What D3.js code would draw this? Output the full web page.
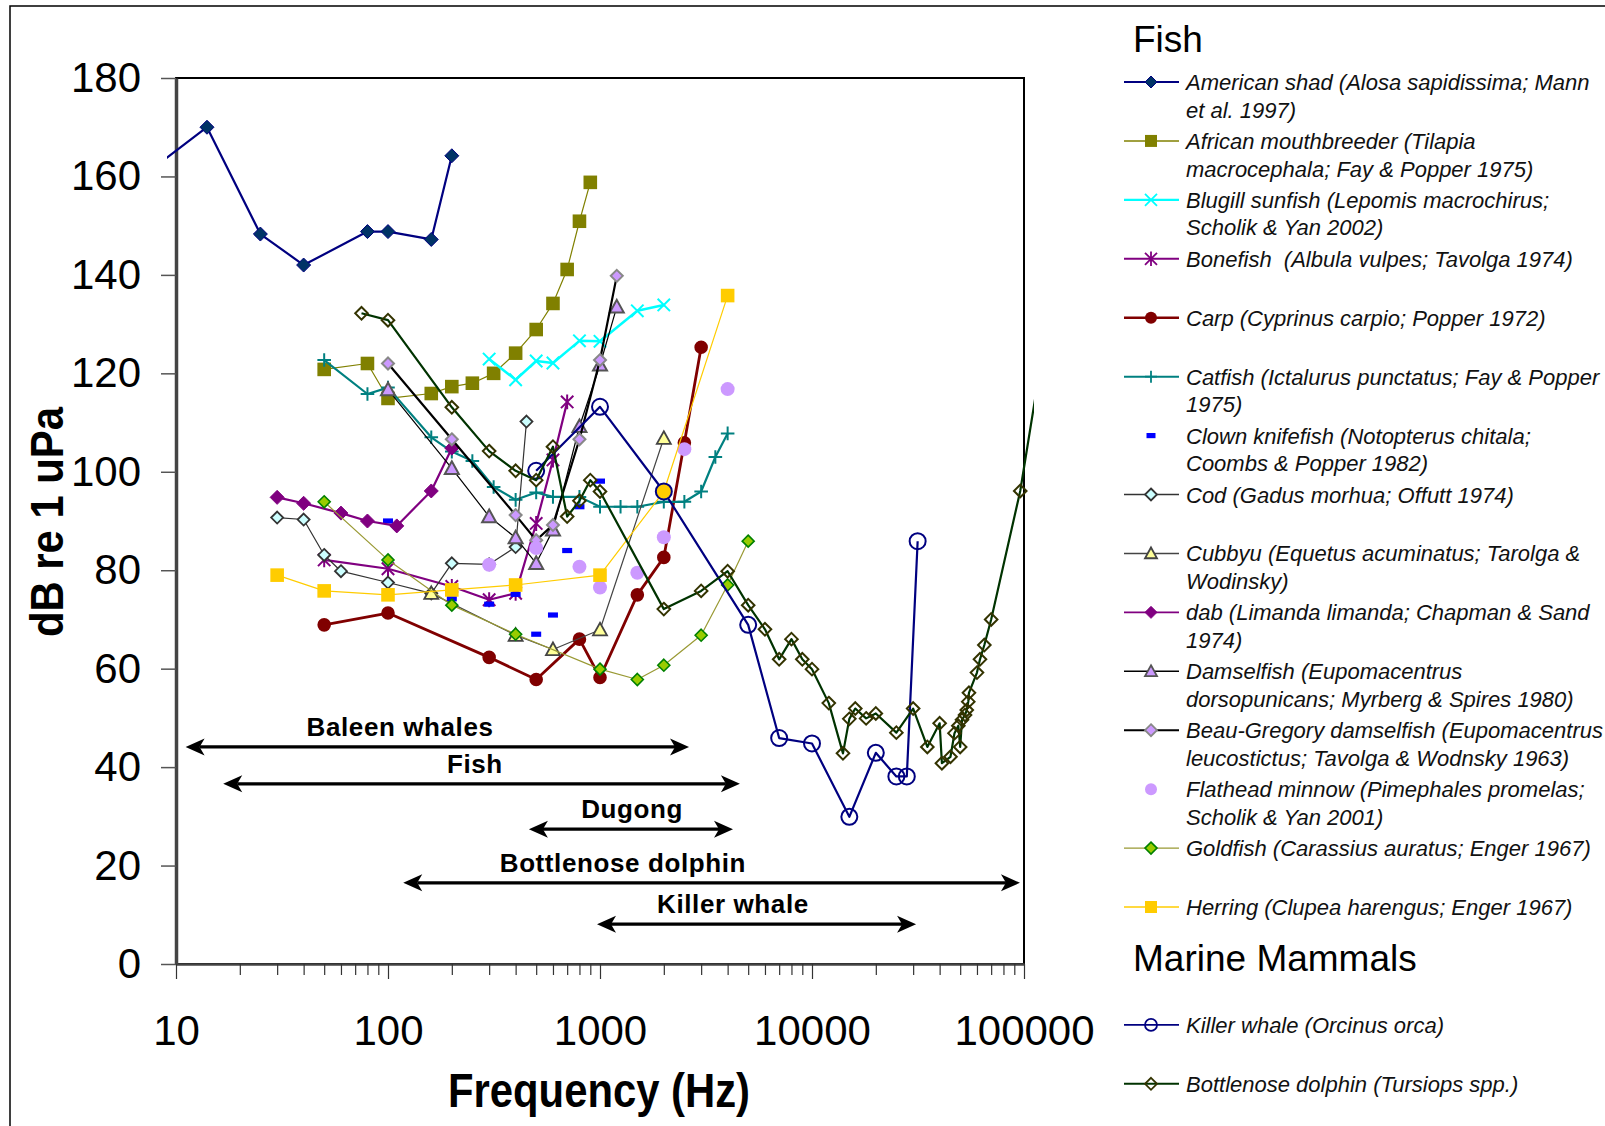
<!DOCTYPE html>
<html>
<head>
<meta charset="utf-8">
<script src="https://cdn.jsdelivr.net/npm/d3@7"></script>
<style>
  body { margin: 0; background: #fff; }
  svg { display: block; font-family: "Liberation Sans", Arial, sans-serif; }
</style>
</head>
<body>
<svg id="chart" width="1605" height="1126"></svg>
<script>
// hearing thresholds, [frequency Hz, dB re 1 uPa]
var americanShad = [[5,155.4],[14,170],[25,148.3],[40,142],[80,148.8],[100,148.8],[160,147.2],[200,164.2]];
var africanMouthbreeder = [[50,120.8],[80,122],[100,114.9],[160,115.9],[200,117.3],[250,118],[315,120],[400,124.1],[500,128.9],[600,134.2],[700,141.1],[800,150.9],[900,158.8]];
var bluegillSunfish = [[300,122.9],[400,118.7],[500,122.5],[600,122.1],[800,126.6],[1000,126.5],[1500,132.7],[2000,133.9]];
var bonefish = [[50,82.1],[100,80.3],[200,76.7],[300,74],[400,75.3],[500,89.5],[600,102.4],[700,114.2]];
var carp = [[50,68.9],[100,71.3],[300,62.3],[500,57.8],[800,66],[1000,58.2],[1500,75],[2000,82.6],[2500,105.9],[3000,125.3]];
var catfish = [[50,122.7],[80,115.8],[100,117.1],[160,107],[200,104.1],[250,102.2],[315,96.9],[400,94.3],[500,95.8],[600,94.9],[800,94.9],[1000,92.9],[1250,92.9],[1500,92.9],[2000,93.9],[2500,93.9],[3000,96],[3500,103],[4000,107.8]];
var clownKnifefish = [[100,90],[200,74.2],[300,73.1],[400,75.1],[500,67],[600,70.9],[700,84],[800,92.9],[1000,98.1]];
var cod = [[30,90.7],[40,90.3],[50,83.1],[60,79.8],[100,77.5],[160,75.3],[200,81.4],[300,81.2],[400,84.7],[450,110.2]];
var cubbyu = [[160,75.3],[400,66.8],[600,63.9],[1000,67.9],[2000,106.8]];
var dab = [[30,94.8],[40,93.6],[60,91.6],[80,90],[110,89],[160,96.1],[200,104.8]];
var damselfish = [[100,116.7],[200,100.7],[300,90.9],[400,86.6],[500,81.4],[600,88.2],[800,109.2],[1000,121.7],[1200,133.5]];
var beauGregory = [[100,122],[200,106.6],[400,91.2],[500,86.1],[600,89.2],[800,106.6],[1000,122.7],[1200,139.8]];
var flatheadMinnow = [[300,81.1],[500,84.5],[800,80.7],[1000,76.5],[1500,79.5],[2000,86.7],[2500,104.6],[4000,116.8]];
var goldfish = [[50,93.9],[100,82.1],[200,72.9],[400,67],[1000,59.9],[1500,57.8],[2000,60.7],[3000,66.8],[4000,77],[5000,85.9]];
var herring = [[30,79],[50,75.8],[100,75],[200,76],[400,77],[1000,79],[2000,96],[4000,135.8]];
var killerWhale = [[500,100.2],[1000,113.2],[2000,96],[5000,68.9],[7000,45.9],[10000,44.8],[15000,29.9],[20000,42.9],[25000,38.1],[28000,38.1],[31500,85.9]];
var bottlenoseDolphin = [[75,132.2],[100,130.8],[200,113.1],[300,104.2],[400,100.2],[500,98.3],[600,105.1],[700,90.9],[800,94.1],[900,98.3],[1000,96],[2000,72.1],[3000,75.8],[4000,79.8],[5000,72.9],[6000,68],[7000,61.9],[8000,66],[9000,61.9],[10000,59.9],[12000,53],[14000,42.8],[15000,49.8],[16000,51.9],[18000,49.9],[20000,50.9],[25000,47],[30000,51.9],[35000,44.1],[40000,48.9],[41000,40.8],[45000,42.1],[47000,46.9],[49000,48.4],[50000,44.1],[51000,49.6],[52700,50.6],[53700,51.6],[54600,53.3],[55000,55.1],[60000,59.2],[62000,61.9],[65000,64.8],[70000,70],[96000,96.1],[120000,122]];

var legendLabels = [
  ['American shad (Alosa sapidissima; Mann', 'et al. 1997)'],
  ['African mouthbreeder (Tilapia', 'macrocephala; Fay & Popper 1975)'],
  ['Blugill sunfish (Lepomis macrochirus;', 'Scholik & Yan 2002)'],
  ['Bonefish  (Albula vulpes; Tavolga 1974)'],
  ['Carp (Cyprinus carpio; Popper 1972)'],
  ['Catfish (Ictalurus punctatus; Fay & Popper', '1975)'],
  ['Clown knifefish (Notopterus chitala;', 'Coombs & Popper 1982)'],
  ['Cod (Gadus morhua; Offutt 1974)'],
  ['Cubbyu (Equetus acuminatus; Tarolga &', 'Wodinsky)'],
  ['dab (Limanda limanda; Chapman & Sand', '1974)'],
  ['Damselfish (Eupomacentrus', 'dorsopunicans; Myrberg & Spires 1980)'],
  ['Beau-Gregory damselfish (Eupomacentrus', 'leucostictus; Tavolga & Wodnsky 1963)'],
  ['Flathead minnow (Pimephales promelas;', 'Scholik & Yan 2001)'],
  ['Goldfish (Carassius auratus; Enger 1967)'],
  ['Herring (Clupea harengus; Enger 1967)'],
  ['Killer whale (Orcinus orca)'],
  ['Bottlenose dolphin (Tursiops spp.)']
];

// hearing ranges drawn as arrows
var rangeLabels = ['Baleen whales', 'Fish', 'Dugong', 'Bottlenose dolphin', 'Killer whale'];
var rangeFrom = [11.1, 16.7, 462, 118, 968];
var rangeTo = [2630, 4570, 4240, 95700, 30970];
var rangeLevel = [44.1, 36.6, 27.4, 16.5, 8.1];
var rangeLabelAt = [114, 257, 1416, 1282, 4236];

var yTicks = [0, 20, 40, 60, 80, 100, 120, 140, 160, 180];
var xMajor = [10, 100, 1000, 10000, 100000];

var series = [
  {data: americanShad, line: '#000080', lw: 2.2, mark: 'diamond', s: 7, fill: '#003366', stroke: '#000080', sw: 1},
  {data: africanMouthbreeder, line: '#808000', lw: 1.2, mark: 'square', s: 6.8, fill: '#808000', stroke: 'none', sw: 0},
  {data: bluegillSunfish, line: '#00FFFF', lw: 2.5, mark: 'x', s: 6.2, fill: 'none', stroke: '#00FFFF', sw: 2},
  {data: bonefish, line: '#800080', lw: 2.2, mark: 'star', s: 6.2, fill: 'none', stroke: '#800080', sw: 2},
  {data: carp, line: '#800000', lw: 2.8, mark: 'circle', s: 6.8, fill: '#800000', stroke: 'none', sw: 0},
  {data: catfish, line: '#008080', lw: 2.2, mark: 'plus', s: 6.8, fill: 'none', stroke: '#008080', sw: 2},
  {data: clownKnifefish, line: null, lw: 0, mark: 'dash', s: 5, fill: '#0000FF', stroke: 'none', sw: 0},
  {data: cod, line: '#333333', lw: 1.2, mark: 'diamond', s: 6, fill: '#CCFFFF', stroke: '#333333', sw: 1.8},
  {data: cubbyu, line: '#444444', lw: 1.2, mark: 'triangle', s: 7, fill: '#FFFF99', stroke: '#444444', sw: 1.8},
  {data: dab, line: '#800080', lw: 2.2, mark: 'diamond', s: 7, fill: '#800080', stroke: '#800080', sw: 1},
  {data: damselfish, line: '#000000', lw: 1.2, mark: 'triangle', s: 7, fill: '#CC99FF', stroke: '#555555', sw: 2},
  {data: beauGregory, line: '#000000', lw: 2.2, mark: 'diamond', s: 6, fill: '#CC99FF', stroke: '#888888', sw: 2},
  {data: flatheadMinnow, line: null, lw: 0, mark: 'circle', s: 7, fill: '#CC99FF', stroke: 'none', sw: 0},
  {data: goldfish, line: '#999933', lw: 1.2, mark: 'diamond', s: 6, fill: '#99CC00', stroke: '#008000', sw: 1.6},
  {data: herring, line: '#FFCC00', lw: 1.2, mark: 'square', s: 6.8, fill: '#FFCC00', stroke: 'none', sw: 0},
  {data: killerWhale, line: '#000080', lw: 2.2, mark: 'circle', s: 8, fill: 'none', stroke: '#000080', sw: 2},
  {data: bottlenoseDolphin, line: '#003300', lw: 2.2, mark: 'diamond', s: 6.3, fill: 'none', stroke: '#333300', sw: 2}
];

var svg = d3.select('#chart');

var x = d3.scaleLog().domain([10, 100000]).range([176, 1024]);
var y = d3.scaleLinear().domain([0, 180]).range([964, 78]);

// outer frame
svg.append('rect').attr('x', 10).attr('y', 6).attr('width', 1640).attr('height', 1160)
  .attr('fill', 'none').attr('stroke', '#000').attr('stroke-width', 1.5);

// plot frame
svg.append('rect').attr('x', 176).attr('y', 78).attr('width', 848).attr('height', 886)
  .attr('fill', 'none').attr('stroke', '#000').attr('stroke-width', 2);

var yAxis = svg.append('g').attr('transform', 'translate(176,0)')
  .call(d3.axisLeft(y).tickValues(yTicks).tickSize(15).tickSizeOuter(0).tickPadding(20));
yAxis.select('.domain').attr('stroke', '#444').attr('stroke-width', 3.5);
yAxis.selectAll('.tick line').attr('stroke', '#555').attr('stroke-width', 1.5);
yAxis.selectAll('.tick text').attr('font-size', 42).attr('fill', '#000')
  .attr('font-family', '"Liberation Sans", Arial, sans-serif');

var xTickVals = [];
xMajor.slice(0, 4).forEach(function (d) {
  for (var k = 1; k < 10; k++) xTickVals.push(d * k);
});
xTickVals.push(100000);

var xAxis = svg.append('g').attr('transform', 'translate(0,964)')
  .call(d3.axisBottom(x).tickValues(xTickVals).tickSize(11).tickSizeOuter(0)
    .tickFormat(function (d) { return xMajor.indexOf(d) >= 0 ? d : ''; }));
xAxis.select('.domain').attr('stroke', '#444').attr('stroke-width', 2.5);
xAxis.selectAll('.tick line').attr('stroke', '#333').attr('stroke-width', 1.2)
  .attr('y2', function (d) { return xMajor.indexOf(d) >= 0 ? 15 : 11; });
xAxis.selectAll('.tick text').attr('font-size', 42).attr('fill', '#000').attr('y', 51)
  .attr('font-family', '"Liberation Sans", Arial, sans-serif');

// axis titles
svg.append('text').attr('x', 599).attr('y', 1107).attr('text-anchor', 'middle')
  .attr('font-size', 48).attr('font-weight', 'bold')
  .attr('textLength', 302).attr('lengthAdjust', 'spacingAndGlyphs')
  .text('Frequency (Hz)');
svg.append('text').attr('transform', 'translate(63,522) rotate(-90)').attr('text-anchor', 'middle')
  .attr('font-size', 46).attr('font-weight', 'bold')
  .attr('textLength', 230).attr('lengthAdjust', 'spacingAndGlyphs')
  .text('dB re 1 uPa');

// clip lines slightly outside the plot, as in the original
svg.append('clipPath').attr('id', 'clip')
  .append('rect').attr('x', 167).attr('y', 0).attr('width', 867).attr('height', 1126);

function markerPath(type, s) {
  switch (type) {
    case 'diamond': return 'M0,' + (-s) + 'L' + s + ',0L0,' + s + 'L' + (-s) + ',0Z';
    case 'square': return 'M' + (-s) + ',' + (-s) + 'H' + s + 'V' + s + 'H' + (-s) + 'Z';
    case 'triangle': return 'M0,' + (-s) + 'L' + s + ',' + (s * 0.8) + 'L' + (-s) + ',' + (s * 0.8) + 'Z';
    case 'circle': return d3.symbol(d3.symbolCircle, Math.PI * s * s)();
    case 'x': return 'M' + (-s) + ',' + (-s) + 'L' + s + ',' + s + 'M' + (-s) + ',' + s + 'L' + s + ',' + (-s);
    case 'star': return 'M' + (-s) + ',' + (-s) + 'L' + s + ',' + s + 'M' + (-s) + ',' + s + 'L' + s + ',' + (-s) + 'M0,' + (-s * 1.2) + 'V' + (s * 1.2);
    case 'plus': return 'M' + (-s) + ',0H' + s + 'M0,' + (-s) + 'V' + s;
    case 'dash': return 'M' + (-s) + ',-2.6H' + s + 'V2.6H' + (-s) + 'Z';
  }
}

var line = d3.line().x(function (d) { return x(d[0]); }).y(function (d) { return y(d[1]); });

function sharedWithOther(p, other) {
  return other.some(function (q) { return q[0] === p[0] && q[1] === p[1]; });
}

var plot = svg.append('g').attr('clip-path', 'url(#clip)');

series.forEach(function (sr) {
  if (sr.line) {
    plot.append('path').datum(sr.data).attr('d', line).attr('fill', 'none')
      .attr('stroke', sr.line).attr('stroke-width', sr.lw).attr('stroke-linejoin', 'round');
  }
  var pts = sr.data.filter(function (d) { return d[0] >= 10 && d[0] <= 100000; });
  // herring's 2 kHz point is shown by the killer whale marker
  if (sr.data === herring) pts = pts.filter(function (d) { return !sharedWithOther(d, killerWhale); });
  plot.selectAll(null).data(pts).enter().append('path')
    .attr('transform', function (d) { return 'translate(' + x(d[0]) + ',' + y(d[1]) + ')'; })
    .attr('d', markerPath(sr.mark, sr.s))
    .attr('fill', function (d) {
      if (sr.data === killerWhale && sharedWithOther(d, herring)) return '#FFCC00';
      return sr.fill;
    })
    .attr('stroke', sr.stroke).attr('stroke-width', sr.sw);
});

// range arrows
function arrowHead(x0, yy, dir) {
  return 'M' + x0 + ',' + yy + 'L' + (x0 - dir * 19) + ',' + (yy - 8.5) +
    'L' + (x0 - dir * 14) + ',' + yy + 'L' + (x0 - dir * 19) + ',' + (yy + 8.5) + 'Z';
}
var arrows = svg.append('g');
rangeLabels.forEach(function (lab, i) {
  var x1 = x(rangeFrom[i]), x2 = x(rangeTo[i]), yy = y(rangeLevel[i]);
  arrows.append('line').attr('x1', x1 + 14).attr('x2', x2 - 14).attr('y1', yy).attr('y2', yy)
    .attr('stroke', '#000').attr('stroke-width', 3.2);
  arrows.append('path').attr('d', arrowHead(x1, yy, -1)).attr('fill', '#000');
  arrows.append('path').attr('d', arrowHead(x2, yy, 1)).attr('fill', '#000');
  arrows.append('text').attr('x', x(rangeLabelAt[i])).attr('y', yy - 11)
    .attr('text-anchor', 'middle').attr('font-size', 26).attr('font-weight', 'bold')
    .attr('letter-spacing', 0.6).text(lab);
});

// legend
var legend = svg.append('g');
legend.append('text').attr('x', 1133).attr('y', 52).attr('font-size', 37).text('Fish');
legend.append('text').attr('x', 1133).attr('y', 971).attr('font-size', 37).text('Marine Mammals');

var slotY = function (i) { return 82 + i * 58.93; };
series.forEach(function (sr, i) {
  var slot = i < 15 ? i : i + 1;
  var ly = slotY(slot);
  var g = legend.append('g');
  if (sr.line) {
    g.append('line').attr('x1', 1124).attr('x2', 1179).attr('y1', ly).attr('y2', ly)
      .attr('stroke', sr.line).attr('stroke-width', Math.max(sr.lw * 0.9, 1.4));
  }
  g.append('path').attr('transform', 'translate(1151,' + ly + ')')
    .attr('d', markerPath(sr.mark, sr.mark === 'dash' ? 4.5 : Math.min(sr.s, 6)))
    .attr('fill', sr.fill).attr('stroke', sr.stroke).attr('stroke-width', Math.min(sr.sw, 1.8));
  var t = g.append('text').attr('x', 1186).attr('y', ly + 8).attr('font-size', 22)
    .attr('font-style', 'italic').attr('fill', '#111').style('white-space', 'pre');
  legendLabels[i].forEach(function (s, k) {
    t.append('tspan').attr('x', 1186).attr('dy', k === 0 ? 0 : 27.6).text(s);
  });
});
</script>
</body>
</html>
